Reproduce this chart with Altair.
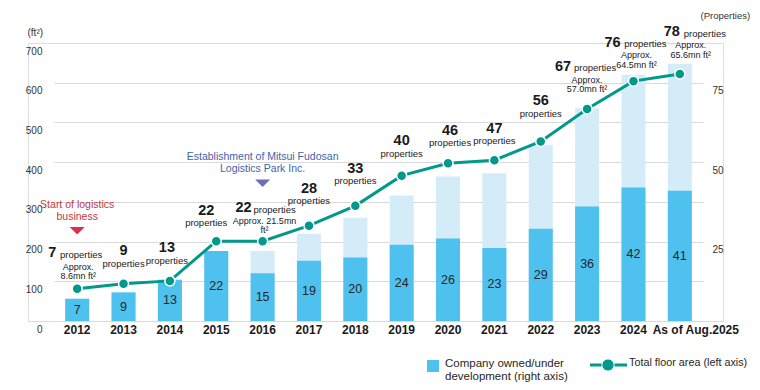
import altair as alt
import pandas as pd

# ---------------- data ----------------
years = ["2012", "2013", "2014", "2015", "2016", "2017", "2018", "2019",
         "2020", "2021", "2022", "2023", "2024", "As of Aug.2025"]
owned = [7, 9, 13, 22, 15, 19, 20, 24, 26, 23, 29, 36, 42, 41]            # dark bar (right axis)
bar_total = [7, 9, 13, 22, 22, 27.5, 32.5, 39.5, 45.5, 46.5, 55.5, 67, 77.5, 81]  # light bar top (right axis)
floor_area = [81, 94, 101, 201, 201, 240, 290, 366, 397, 405, 452, 534, 604, 622]  # line (left axis)
prop_counts = [7, 9, 13, 22, 22, 28, 33, 40, 46, 47, 56, 67, 76, 78]
note_line1 = ["Approx.", "", "", "", "Approx. 21.5mn", "", "", "", "", "", "",
              "Approx.", "Approx.", "Approx."]
note_line2 = ["8.6mn ft²", "", "", "", "ft²", "", "", "", "", "", "",
              "57.0mn ft²", "64.5mn ft²", "65.6mn ft²"]

event_years = ["2012", "2016"]
event_names = ["start", "establish"]
event_texts = ["Start of logistics\nbusiness",
               "Establishment of Mitsui Fudosan\nLogistics Park Inc."]

legend_bar_text = "Company owned/under\ndevelopment (right axis)"
legend_line_text = "Total floor area (left axis)"

# ---------------- annotation layout (pixel nudges relative to each point) ----------------
num_dx = [-25, 0, -3, -10, -19, 0, 0, 0, 2, 0, 0, -24, -21, -8]
num_dy = [-36, -33, -33, -30, -33, -37, -37, -35, -32, -31, -40, -42, -38, -42]
word_dx = [4, 0, -3, -10, 12, 0, 0, 0, 2, 0, 0, 8, 12, 25]
word_dy = [-34, -20, -20, -18, -31, -25, -25, -22, -20, -19, -27, -41, -37, -40]
note_dx = [1, 0, 0, 0, 2, 0, 0, 0, 0, 0, 0, 0, 3, 11]
note_dy1 = [-22, 0, 0, 0, -20.5, 0, 0, 0, 0, 0, 0, -29, -26, -28.5]
note_dy2 = [-13, 0, 0, 0, -11.5, 0, 0, 0, 0, 0, 0, -20, -16, -19]

# ---------------- styles ----------------
FONT = "Liberation Sans, Arial, sans-serif"
DARK = "#4EC1EE"
LIGHT = "#D3ECF8"
TEAL = "#00998B"
GRID = "#D9D9D9"
INK = "#1A1A1A"
RED_TXT, RED_TRI = "#C0393F", "#D9304B"
BLUE_TXT, BLUE_TRI = "#3F63A9", "#6970B5"

WIDTH, HEIGHT = 695, 278
Y_MAX = 700
X_RANGE = [26, 675]
half_step = (X_RANGE[1] - X_RANGE[0]) / len(years) / 2
units_per_px = Y_MAX / HEIGHT   # converts a pixel nudge into left-axis units


def lift(dys):
    # label anchor: the point's value moved up by a pixel nudge
    return [a - d * units_per_px for a, d in zip(floor_area, dys)]


df = pd.DataFrame({
    "year": years, "owned": owned, "total": bar_total, "area": floor_area,
    "count": prop_counts, "note1": note_line1, "note2": note_line2,
    "num_dx": [d + half_step for d in num_dx], "num_y": lift(num_dy),
    "word_dx": [d + half_step for d in word_dx], "word_y": lift(word_dy),
    "note_dx": [d + half_step for d in note_dx],
    "note_y1": lift(note_dy1), "note_y2": lift(note_dy2),
})

ev_df = pd.DataFrame({
    "year": event_years, "event": event_names, "label": event_texts,
    "area": [floor_area[years.index(y)] for y in event_years],
})

xscale = alt.Scale(domain=years, range=X_RANGE, paddingInner=0, paddingOuter=0)
xaxis = alt.Axis(
    title=None, domain=False, ticks=False, labelAngle=0, labelFont=FONT,
    labelFontSize=12, labelFontWeight="bold", labelColor=INK, labelPadding=3,
    labelOffset={"condition": {"test": "datum.value === 'As of Aug.2025'", "value": 16}, "value": 0},
)
x_enc = alt.X("year:N", scale=xscale, axis=xaxis)

yl = alt.Scale(domain=[0, Y_MAX], nice=False)
yr = alt.Scale(domain=[0, Y_MAX / 8], nice=False)

yl_axis = alt.Axis(
    values=list(range(0, 800, 100)), orient="left", title="(ft²)",
    grid=True, gridColor=GRID, gridWidth=1, domain=False, ticks=False, tickSize=0,
    labelAlign="right", labelBaseline="middle", labelPadding=-14, labelOffset=8,
    labelFont=FONT, labelFontSize=10, labelColor="#333333",
    titleAngle=0, titleAlign="left", titleBaseline="middle", titleX=-1, titleY=-11,
    titleFont=FONT, titleFontSize=10, titleFontWeight="normal", titleColor="#333333",
)
yr_axis = alt.Axis(
    values=[25, 50, 75], orient="right", title="(Properties)",
    grid=False, domain=False, ticks=False, tickSize=0,
    labelAlign="right", labelBaseline="middle", labelPadding=0, labelOffset=8,
    labelFont=FONT, labelFontSize=10, labelColor="#333333",
    titleAngle=0, titleAlign="left", titleBaseline="middle", titleX=-23, titleY=-28,
    titleFont=FONT, titleFontSize=9.5, titleFontWeight="normal", titleColor="#333333",
)

base = alt.Chart(df)

# ---- bars (right axis) ----
bars_light = base.mark_bar(size=24, color=LIGHT).encode(
    x=x_enc, y=alt.Y("total:Q", scale=yr, axis=yr_axis))
bars_dark = base.mark_bar(size=24, color=DARK).encode(
    x=x_enc, y=alt.Y("owned:Q", scale=yr, axis=yr_axis))
bar_text = base.transform_calculate(mid="datum.owned / 2").mark_text(
    font=FONT, fontSize=12.5, color="#262626", baseline="middle").encode(
    x=x_enc, y=alt.Y("mid:Q", scale=yr, axis=yr_axis), text="owned:Q")
bar_layer = alt.layer(bars_light, bars_dark, bar_text)

# ---- line (left axis) ----
y_area = alt.Y("area:Q", scale=yl, axis=yl_axis)
line = base.mark_line(color=TEAL, strokeWidth=3).encode(x=x_enc, y=y_area)
pts = base.mark_circle(size=100, opacity=1, fill=TEAL, stroke="white", strokeWidth=1.5).encode(
    x=x_enc, y=y_area)

num_text = base.mark_text(font=FONT, fontSize=14.5, fontWeight="bold", color=INK,
                          baseline="middle").encode(
    x=x_enc, y=alt.Y("num_y:Q", scale=yl, axis=yl_axis),
    xOffset=alt.XOffset("num_dx:Q", scale=None),
    text="count:Q")
word_text = base.mark_text(font=FONT, fontSize=9.5, color=INK, baseline="middle").encode(
    x=x_enc, y=alt.Y("word_y:Q", scale=yl, axis=yl_axis),
    xOffset=alt.XOffset("word_dx:Q", scale=None),
    text=alt.value("properties"))
note1 = base.transform_filter("datum.note1 != ''").mark_text(
    font=FONT, fontSize=9, color=INK, baseline="middle").encode(
    x=x_enc, y=alt.Y("note_y1:Q", scale=yl, axis=yl_axis),
    xOffset=alt.XOffset("note_dx:Q", scale=None),
    text="note1:N")
note2 = base.transform_filter("datum.note2 != ''").mark_text(
    font=FONT, fontSize=9, color=INK, baseline="middle").encode(
    x=x_enc, y=alt.Y("note_y2:Q", scale=yl, axis=yl_axis),
    xOffset=alt.XOffset("note_dx:Q", scale=None),
    text="note2:N")

ev = alt.Chart(ev_df)
ev_text = ev.mark_text(font=FONT, fontSize=10.5, lineBreak="\n", lineHeight=12,
                       baseline="alphabetic", dy=-81).encode(
    x=x_enc, y=y_area, text="label:N",
    color=alt.Color("event:N", scale=alt.Scale(domain=event_names, range=[RED_TXT, BLUE_TXT]),
                    legend=None))
TRI = "M-1,-0.5L1,-0.5L0,0.5Z"
ev_tri = ev.mark_point(shape=TRI, filled=True, size=225, opacity=1, strokeWidth=0).encode(
    x=x_enc, y=y_area, yOffset=alt.value(-58),
    fill=alt.Fill("event:N", scale=alt.Scale(domain=event_names, range=[RED_TRI, BLUE_TRI]),
                  legend=None))

line_layer = alt.layer(line, pts, num_text, word_text, note1, note2, ev_text, ev_tri)

# ---- legend (drawn) ----
leg = alt.Chart(pd.DataFrame({"k": [0]}))
leg_sq = leg.mark_square(size=144, color=DARK, opacity=1).encode(
    x=alt.value(405), y=alt.value(323))
leg_t1 = leg.mark_text(text=legend_bar_text, lineBreak="\n", lineHeight=12.5, align="left",
                       baseline="alphabetic", font=FONT, fontSize=11.5, color="#262626").encode(
    x=alt.value(417), y=alt.value(324))
leg_rule = leg.mark_rule(color=TEAL, strokeWidth=3).encode(
    x=alt.value(562), x2=alt.value(599), y=alt.value(322))
leg_circ = leg.mark_circle(size=150, fill=TEAL, stroke="white", strokeWidth=1, opacity=1).encode(
    x=alt.value(580), y=alt.value(322))
leg_t2 = leg.mark_text(text=legend_line_text, align="left", baseline="middle",
                       font=FONT, fontSize=10.8, color="#262626").encode(
    x=alt.value(601), y=alt.value(320))

chart = alt.layer(
    bar_layer, line_layer, leg_sq, leg_t1, leg_rule, leg_circ, leg_t2
).resolve_scale(y="independent").properties(
    width=WIDTH, height=HEIGHT,
    padding={"left": 20, "top": 35, "right": 29, "bottom": 61},
    autosize=alt.AutoSizeParams(type="none"),
).configure_view(stroke=None).configure(font=FONT)

chart.save("out.html", embed_options={"renderer": "svg", "actions": False})
